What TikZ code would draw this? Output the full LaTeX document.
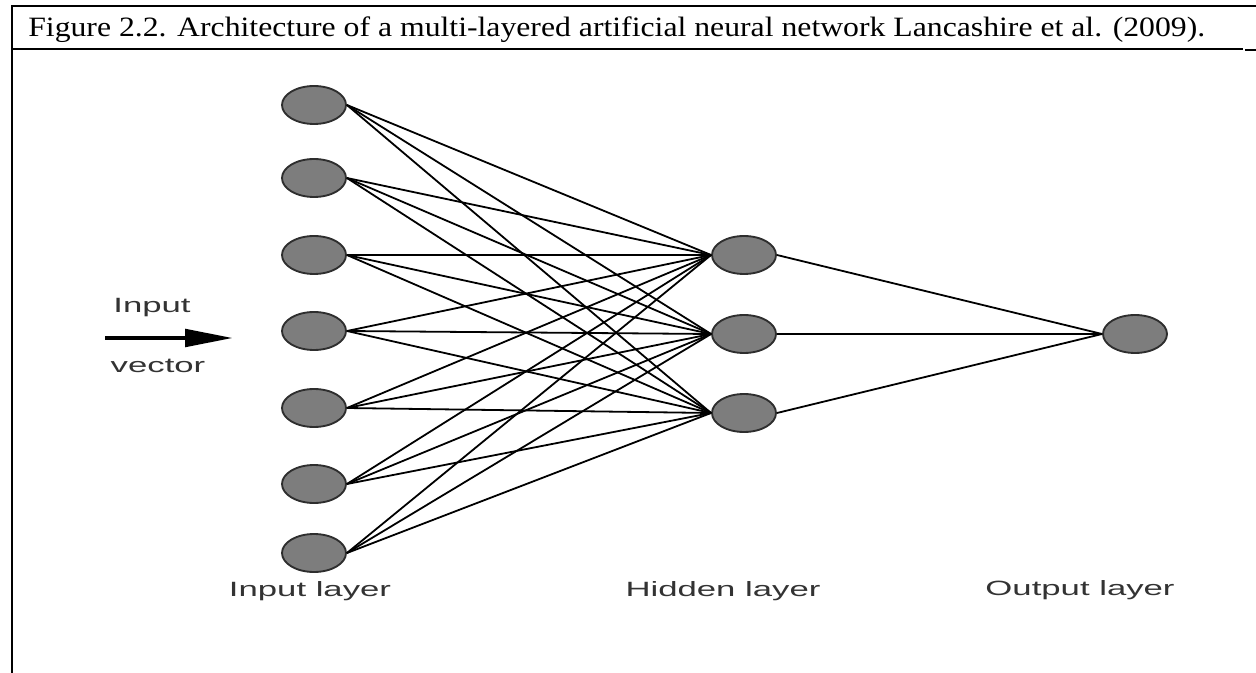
\documentclass[tikz,border=0pt]{standalone}
\usepackage{fontspec}
\setmainfont{Liberation Serif}
\newfontfamily\labelfont{Liberation Sans}
\usetikzlibrary{shapes.geometric,arrows.meta}
\definecolor{nodefill}{HTML}{7D7D7D}
\definecolor{nodeedge}{HTML}{2E2E2E}
\definecolor{labelgray}{HTML}{333333}
\begin{document}
\begin{tikzpicture}[x=0.75pt,y=-0.75pt,
  neuron/.style={ellipse,draw=nodeedge,fill=nodefill,line width=1.4pt,
    minimum width=48pt,minimum height=28.5pt,inner sep=0pt},
  link/.style={black,line width=1.35pt},
  frame/.style={black,line width=1.2pt},
  lbl/.style={font=\labelfont\fontsize{15.5pt}{18pt}\selectfont,text=labelgray,
    xscale=1.68,inner sep=0pt}]
\useasboundingbox (0,0) rectangle (1256,673);
% frame
\draw[frame] (11,6) -- (1256,6);
\draw[frame] (12,5.5) -- (12,673);
\draw[frame] (12,49) -- (1243,49);
\draw[frame] (1245,50) -- (1256,50);
\node[anchor=base west,inner sep=0pt,xscale=1.133,font=\fontsize{21pt}{24pt}\selectfont] (cap) at (28,37)
  {Figure 2.2. Architecture of a multi-layered artificial neural network Lancashire et al. (2009).};
% neurons
\foreach \i/\y in {1/105,2/178,3/255,4/331,5/408,6/484,7/553}
  \node[neuron] (i\i) at (314,\y) {};
\foreach \j/\y in {1/255,2/334,3/413}
  \node[neuron] (h\j) at (744,\y) {};
\node[neuron] (o) at (1135,334) {};
% links
\foreach \i in {1,...,7}
  \foreach \j in {1,2,3}
    \draw[link] (i\i.east) -- (h\j.west);
\foreach \j in {1,2,3}
  \draw[link] (h\j.east) -- (o.west);
% input arrow
\coordinate (as) at (105,338);
\coordinate (ae) at (233,338);
\draw[line width=3.2pt,-{Triangle[length=36pt,width=13pt]}] (as) -- (ae);
\node[lbl] (inlbl) at (152,308) {Input};
\node[lbl] (veclbl) at (158,366) {vector};
% layer labels
\node[lbl] (l1) at (310,591) {Input layer};
\node[lbl] (l2) at (723,591) {Hidden layer};
\node[lbl] (l3) at (1080,590) {Output layer};
\end{tikzpicture}
\end{document}
